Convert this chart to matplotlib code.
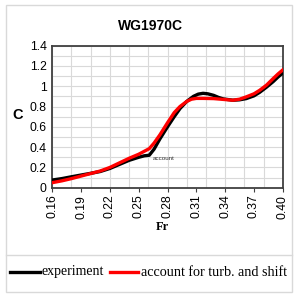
import matplotlib
matplotlib.use("Agg")
import matplotlib.pyplot as plt
from matplotlib.lines import Line2D
from matplotlib.patches import Rectangle

# ----------------------------
# Data
# ----------------------------
fr_exp = [0.160, 0.170, 0.180, 0.190, 0.200, 0.210, 0.220, 0.230, 0.240, 0.250,
          0.256, 0.261, 0.266, 0.272, 0.280, 0.287, 0.293, 0.300, 0.307, 0.312,
          0.317, 0.322, 0.328, 0.333, 0.338, 0.348, 0.355, 0.362, 0.370, 0.376,
          0.383, 0.390, 0.395, 0.400]
c_exp = [0.076, 0.090, 0.108, 0.125, 0.142, 0.160, 0.190, 0.230, 0.270, 0.300,
         0.315, 0.320, 0.380, 0.480, 0.600, 0.700, 0.780, 0.850, 0.900, 0.922,
         0.930, 0.925, 0.910, 0.890, 0.875, 0.862, 0.866, 0.878, 0.905, 0.940,
         0.990, 1.045, 1.090, 1.130]

fr_acc = [0.160, 0.170, 0.180, 0.190, 0.200, 0.210, 0.220, 0.230, 0.240, 0.250,
          0.256, 0.261, 0.266, 0.272, 0.280, 0.287, 0.293, 0.300, 0.305, 0.310,
          0.317, 0.328, 0.338, 0.348, 0.355, 0.362, 0.370, 0.376, 0.383, 0.390,
          0.395, 0.400]
c_acc = [0.050, 0.068, 0.090, 0.115, 0.140, 0.165, 0.200, 0.245, 0.290, 0.330,
         0.360, 0.385, 0.440, 0.520, 0.640, 0.740, 0.800, 0.850, 0.872, 0.880,
         0.880, 0.878, 0.870, 0.862, 0.872, 0.895, 0.925, 0.960, 1.010, 1.075,
         1.120, 1.160]

x_ticks = [0.16, 0.19, 0.22, 0.25, 0.28, 0.31, 0.34, 0.37, 0.40]
x_grid = [0.16 + 0.02 * i for i in range(13)]
y_ticks = [0, 0.2, 0.4, 0.6, 0.8, 1.0, 1.2, 1.4]
y_labels = ["0", "0.2", "0.4", "0.6", "0.8", "1", "1.2", "1.4"]

plt.rcParams["font.family"] = ["Liberation Sans", "DejaVu Sans"]

fig = plt.figure(figsize=(2.97, 2.98), dpi=100)

# outer frame and legend separator
fig.patches.append(Rectangle((6 / 297, 6 / 298), 286 / 297, 287 / 298,
                             transform=fig.transFigure, fill=False,
                             edgecolor="#d9d9d9", linewidth=1.0))
fig.lines.append(Line2D([6 / 297, 292 / 297], [43 / 298, 43 / 298],
                        transform=fig.transFigure, color="#d9d9d9", linewidth=1.0))

ax = fig.add_axes([0.176, 0.370, 0.776, 0.477])

ax.plot(fr_exp, c_exp, color="black", linewidth=2.4, zorder=3)
ax.plot(fr_acc, c_acc, color="red", linewidth=2.4, zorder=4)

ax.set_xlim(0.16, 0.40)
ax.set_ylim(0, 1.4)

for g in x_grid:
    ax.axvline(g, color="#d9d9d9", linewidth=0.8, zorder=1)
for g in [0.1 * i for i in range(15)]:
    ax.axhline(g, color="#d9d9d9", linewidth=0.8, zorder=1)

ax.set_xticks(x_ticks)
ax.set_xticklabels([f"{t:.2f}" for t in x_ticks], rotation=90, fontsize=8.8)
ax.set_yticks(y_ticks)
ax.set_yticklabels(y_labels, fontsize=8.8)
ax.tick_params(axis="x", length=3, color="#404040", pad=2)
ax.tick_params(axis="y", length=0, pad=4)

for s in ax.spines.values():
    s.set_color("#404040")
    s.set_linewidth(1.3)

ax.text(0.265, 0.27, "account", fontsize=4.5, color="#333333")

fig.text(150 / 297, 1 - 26 / 298, "WG1970C", fontsize=10, fontweight="bold",
         ha="center", va="center")
fig.text(18 / 297, 1 - 115 / 298, "C", fontsize=10.5, fontweight="bold",
         ha="center", va="center")
fig.text(162 / 297, 1 - 227 / 298, "Fr", fontsize=9, fontweight="bold",
         family="Liberation Serif", ha="center", va="center")

# legend drawn by hand along the bottom strip
ly = 1 - 272 / 298
fig.lines.append(Line2D([10 / 297, 40 / 297], [ly, ly], transform=fig.transFigure,
                        color="black", linewidth=2.4))
fig.text(42 / 297, ly, "experiment", fontsize=10, family="Liberation Serif",
         va="center", ha="left")
fig.lines.append(Line2D([110 / 297, 138 / 297], [ly, ly], transform=fig.transFigure,
                        color="red", linewidth=2.4))
fig.text(141 / 297, ly, "account for turb. and shift", fontsize=10.2,
         family="Liberation Serif", va="center", ha="left")

fig.savefig("out.png", dpi=100)
plt.close(fig)
